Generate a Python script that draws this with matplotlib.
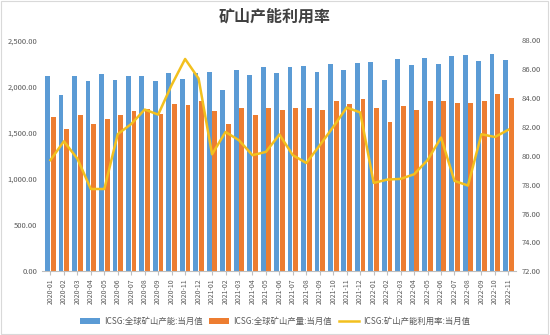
import matplotlib
matplotlib.use("Agg")
import matplotlib.pyplot as plt
import numpy as np
from matplotlib.ticker import FuncFormatter

plt.rcParams['font.family'] = ['Noto Sans CJK SC', 'DejaVu Sans']

months = [f"{y}-{m:02d}" for y in (2020, 2021, 2022) for m in range(1, 13)][:35]

capacity = [2110, 1905, 2118, 2056, 2132, 2067, 2110, 2118, 2056, 2140, 2078, 2150,
            2157, 1959, 2183, 2121, 2215, 2143, 2208, 2222, 2154, 2240, 2175, 2258,
            2262, 2067, 2294, 2229, 2312, 2240, 2327, 2341, 2273, 2355, 2291]
production = [1670, 1540, 1688, 1598, 1652, 1688, 1732, 1760, 1699, 1807, 1796, 1840,
              1732, 1598, 1764, 1695, 1771, 1750, 1764, 1764, 1742, 1843, 1807, 1869,
              1771, 1612, 1793, 1750, 1847, 1840, 1825, 1825, 1847, 1915, 1872]
utilization = [79.7, 81.0, 79.8, 77.7, 77.7, 81.5, 82.2, 83.2, 82.85, 84.9, 86.7, 85.35,
               80.1, 81.65, 81.07, 80.04, 80.27, 81.47, 80.04, 79.5, 80.73, 82.0, 83.34, 83.0,
               78.12, 78.35, 78.4, 78.72, 79.7, 81.26, 78.26, 77.94, 81.49, 81.3, 81.8]

labels = ["ICSG:全球矿山产能:当月值", "ICSG:全球矿山产量:当月值", "ICSG:矿山产能利用率:当月值"]

fig = plt.figure(figsize=(5.5, 3.35), dpi=100)
ax = fig.add_axes([0.077, 0.19, 0.862, 0.69])
ax2 = ax.twinx()

x = np.arange(len(months))
w = 0.36
b1 = ax.bar(x - 0.21, capacity, w, color='#5B9BD5', label=labels[0], zorder=2)
b2 = ax.bar(x + 0.21, production, w, color='#ED7D31', label=labels[1], zorder=2)
l1, = ax2.plot(x, utilization, color='#F2C01E', lw=1.8, label=labels[2])

ax.set_ylim(0, 2500)
ax.set_yticks(np.arange(0, 2501, 500))
ax.yaxis.set_major_formatter(FuncFormatter(lambda v, p: f"{v:,.2f}"))
ax2.set_ylim(72, 88)
ax2.set_yticks(np.arange(72, 89, 2))
ax2.yaxis.set_major_formatter(FuncFormatter(lambda v, p: f"{v:.2f}"))
ax.set_xlim(-0.6, len(months) - 0.4)
ax.set_xticks(x)
ax.set_xticklabels(months, rotation=90, fontsize=5, color='#595959')

for a in (ax, ax2):
    for s in a.spines.values():
        s.set_visible(False)
    a.tick_params(axis='y', length=0, labelsize=5.5, labelcolor='#595959')
ax.spines['bottom'].set_visible(True)
ax.spines['bottom'].set_color('#BFBFBF')
ax.tick_params(axis='x', length=3, color='#BFBFBF', pad=2)

fig.suptitle("矿山产能利用率", y=0.975, fontsize=11.5, color='#404040', fontweight='bold')
fig.legend(handles=[b1, b2, l1], loc='lower center', bbox_to_anchor=(0.5, 0.005),
           ncol=3, frameon=False, fontsize=6, labelcolor='#595959',
           handlelength=2.4, handletextpad=0.5, columnspacing=0.8)

fig.patches.append(plt.Rectangle((0.002, 0.003), 0.995, 0.994, transform=fig.transFigure,
                                 fill=False, edgecolor='#D9D9D9', lw=0.8))

fig.savefig("out.png", dpi=100)
